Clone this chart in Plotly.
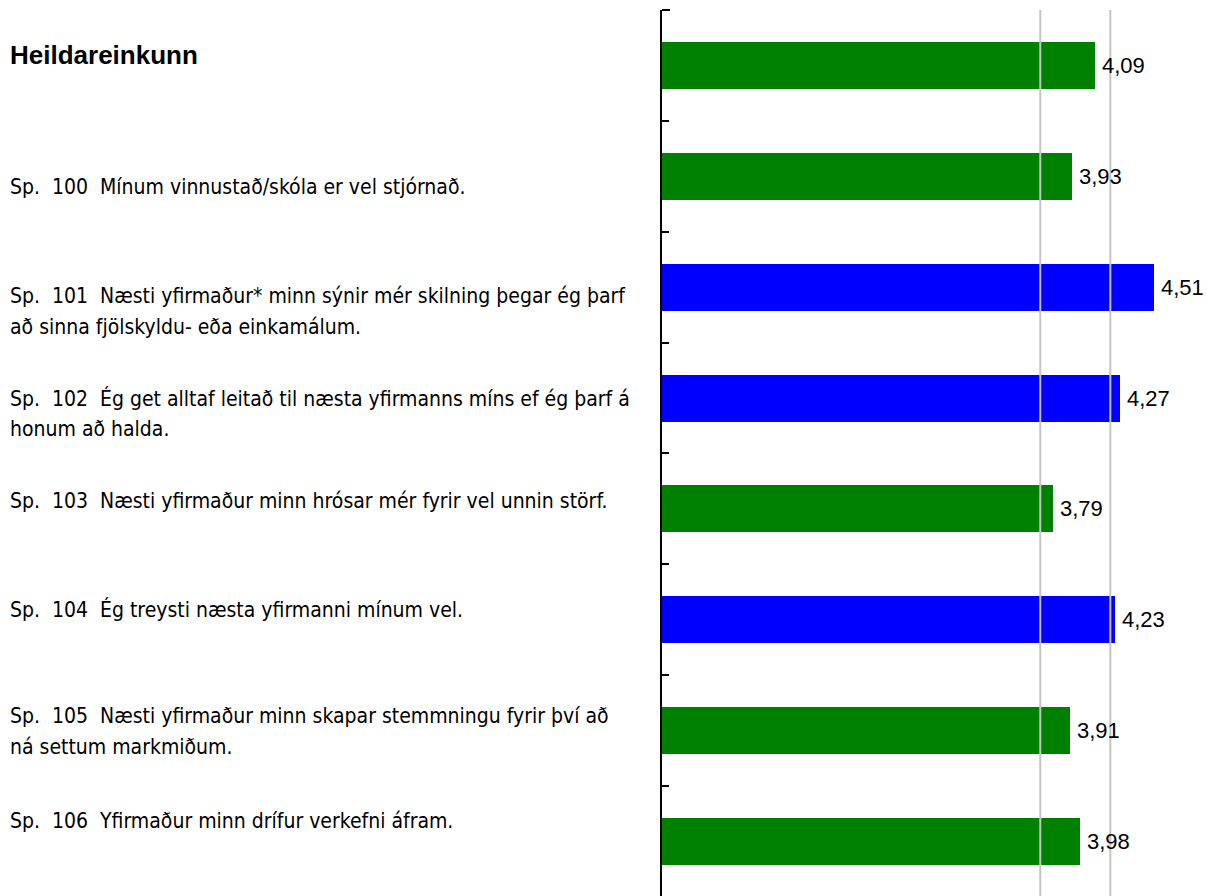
import plotly.graph_objects as go

# Survey items (Icelandic) and their mean scores
labels = [
    "Heildareinkunn",
    "Sp.  100  Mínum vinnustað/skóla er vel stjórnað.",
    "Sp.  101  Næsti yfirmaður* minn sýnir mér skilning þegar ég þarf\nað sinna fjölskyldu- eða einkamálum.",
    "Sp.  102  Ég get alltaf leitað til næsta yfirmanns míns ef ég þarf á\nhonum að halda.",
    "Sp.  103  Næsti yfirmaður minn hrósar mér fyrir vel unnin störf.",
    "Sp.  104  Ég treysti næsta yfirmanni mínum vel.",
    "Sp.  105  Næsti yfirmaður minn skapar stemmningu fyrir því að\nná settum markmiðum.",
    "Sp.  106  Yfirmaður minn drífur verkefni áfram.",
]
scores = [4.09, 3.93, 4.51, 4.27, 3.79, 4.23, 3.91, 3.98]
reference_lines = [3.7, 4.2]

# Layout constants
W, H = 1207, 896
LEFT, TOP = 662, 10
PX_PER_UNIT = 140.1
ROW_PX = 110.86
GREEN, BLUE = "#008000", "#0000ff"

n = len(scores)
ypos = list(range(n))
colors = [BLUE if v >= reference_lines[1] else GREEN for v in scores]

x_max = 1 + (W - LEFT) / PX_PER_UNIT
y_bottom = -0.5 + (H - TOP) / ROW_PX
plot_w = W - LEFT

fig = go.Figure(
    go.Bar(
        x=[v - 1 for v in scores],
        base=1,
        y=ypos,
        orientation="h",
        marker=dict(color=colors, line=dict(width=0)),
        width=0.424,
        hoverinfo="skip",
    )
)

# Reference lines drawn over the bars
for rl in reference_lines:
    fig.add_shape(
        type="line", xref="x", yref="paper", x0=rl, x1=rl, y0=0, y1=1,
        line=dict(color="#c4c4c4", width=2), layer="above",
    )

# Tick closing the top end of the axis line
fig.add_shape(
    type="line", xref="paper", yref="paper", x0=0, x1=8 / plot_w, y0=1, y1=1,
    line=dict(color="#000000", width=2), layer="above",
)

# Value labels with decimal comma
for i, v in enumerate(scores):
    fig.add_annotation(
        x=v, y=i, xref="x", yref="y", text=f"{v:.2f}".replace(".", ","),
        showarrow=False, xanchor="left", yanchor="middle", xshift=5,
        font=dict(family="Liberation Sans, Arial, sans-serif", size=22, color="#000000"),
    )

# Item labels on the left
first_line_shift = [-10.5, 10.5, 8.5, 0, -7.5, -10.5, -14.5, -20.5]
line_gap = 31
for i, lab in enumerate(labels):
    for k, line in enumerate(lab.split("\n")):
        bold = i == 0
        fig.add_annotation(
            x=0, y=i, xref="paper", yref="y",
            text=f"<b>{line}</b>" if bold else line,
            showarrow=False, xanchor="left", yanchor="middle",
            xshift=-(LEFT - 8), yshift=-(first_line_shift[i] + k * line_gap),
            font=dict(
                family=("Liberation Sans, Arial, sans-serif" if bold
                        else "Liberation Sans Narrow, Arial Narrow, DejaVu Sans Condensed, sans-serif"),
                size=26 if bold else 21, color="#000000",
            ),
        )

fig.update_layout(
    width=W, height=H,
    margin=dict(l=LEFT, r=0, t=TOP, b=0, pad=0),
    paper_bgcolor="#ffffff", plot_bgcolor="#ffffff",
    showlegend=False,
    bargap=0,
)
fig.update_xaxes(
    range=[1, x_max], showgrid=False, zeroline=False, showline=False,
    showticklabels=False, ticks="", fixedrange=True,
)
fig.update_yaxes(
    range=[y_bottom, -0.5], showgrid=False, zeroline=False,
    showline=True, linecolor="#000000", linewidth=2,
    tickvals=[i - 0.5 for i in range(n)], ticks="inside", ticklen=7,
    tickwidth=2, tickcolor="#000000", showticklabels=False, fixedrange=True,
)

fig.write_html("out.html", config={"displayModeBar": False})
